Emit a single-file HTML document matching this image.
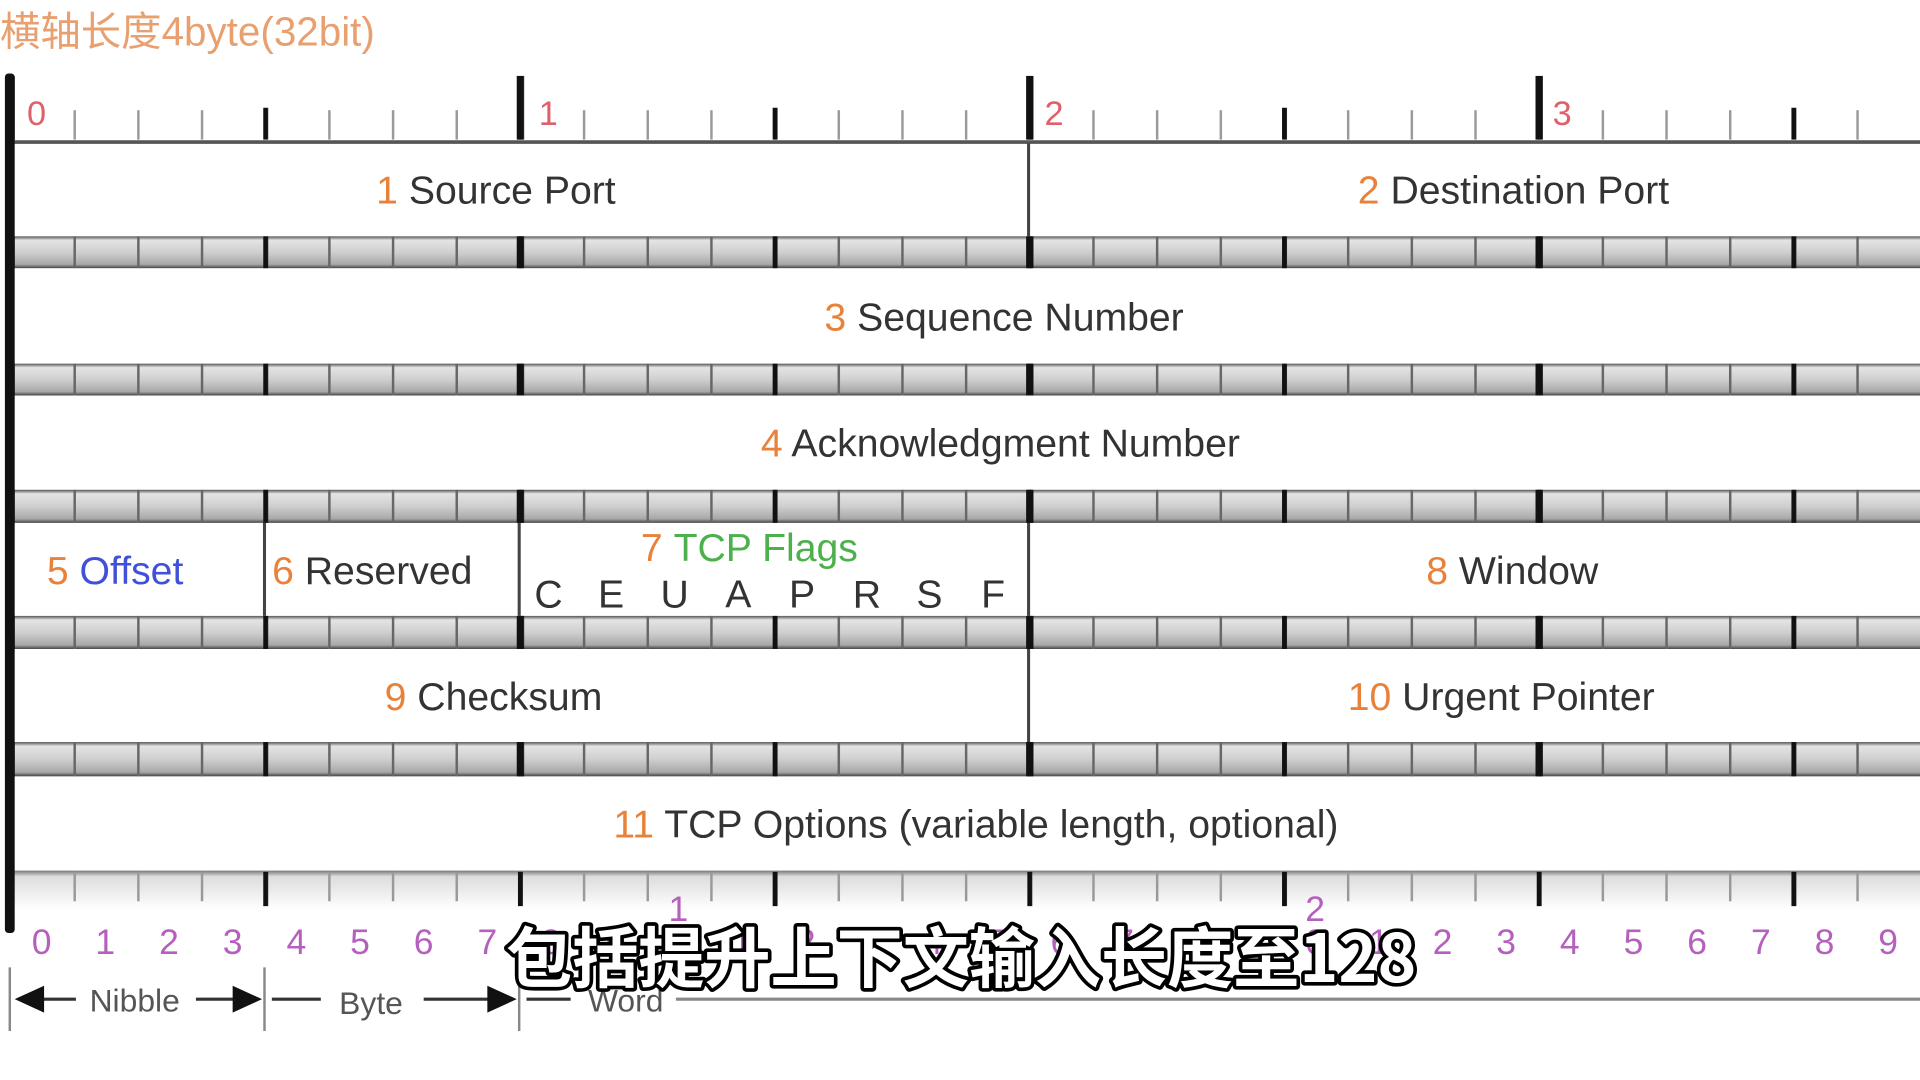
<!DOCTYPE html>
<html><head><meta charset="utf-8"><style>
html,body{margin:0;padding:0;background:#fff;width:1920px;height:1080px;overflow:hidden}
svg{display:block}
.t{font-family:"Liberation Sans",sans-serif;font-size:32px;fill:#333}
.n{fill:#e8823a}
</style></head><body>
<svg width="1920" height="1080" viewBox="0 0 1568 882" preserveAspectRatio="none" xmlns="http://www.w3.org/2000/svg">
<defs>
<linearGradient id="bar" x1="0" y1="0" x2="0" y2="1">
<stop offset="0" stop-color="#555"/><stop offset="0.12" stop-color="#e4e4e4"/><stop offset="0.5" stop-color="#cfcfcf"/><stop offset="0.88" stop-color="#a8a8a8"/><stop offset="1" stop-color="#444"/>
</linearGradient>
<linearGradient id="bot" x1="0" y1="0" x2="0" y2="1">
<stop offset="0" stop-color="#777"/><stop offset="0.15" stop-color="#ddd"/><stop offset="1" stop-color="#fff"/>
</linearGradient>
<pattern id="pBit" x="8" y="0" width="52" height="882" patternUnits="userSpaceOnUse"><rect x="0" y="0" width="2" height="882" fill="#666"/></pattern>
<pattern id="pNib" x="7" y="0" width="208" height="882" patternUnits="userSpaceOnUse"><rect x="0" y="0" width="4" height="882" fill="#111"/></pattern>
<pattern id="pByte" x="6" y="0" width="416" height="882" patternUnits="userSpaceOnUse"><rect x="0" y="0" width="6" height="882" fill="#111"/></pattern>
<pattern id="tBit" x="8" y="0" width="52" height="882" patternUnits="userSpaceOnUse"><rect x="0" y="0" width="2" height="882" fill="#999"/></pattern>
</defs>
<rect width="1568" height="882" fill="#fff"/>
<text x="0" y="37" font-family="Liberation Sans,Noto Sans CJK SC,sans-serif" font-size="33" fill="#e9a070">横轴长度4byte(32bit)</text>

<!-- top ruler -->
<rect x="8" y="90" width="1560" height="24" fill="url(#tBit)"/>
<rect x="8" y="88" width="1560" height="26" fill="url(#pNib)"/>
<rect x="8" y="62" width="1560" height="52" fill="url(#pByte)"/>
<g font-family="Liberation Sans,sans-serif" font-size="28" fill="#e0606a">
<text x="22" y="102">0</text><text x="440" y="102">1</text><text x="853" y="102">2</text><text x="1268" y="102">3</text></g>
<line x1="8" y1="116" x2="1568" y2="116" stroke="#555" stroke-width="3"/>

<!-- bars -->
<g>
<rect x="8" y="193" width="1560" height="26" fill="url(#bar)"/><rect x="8" y="193" width="1560" height="26" fill="url(#pBit)"/><rect x="8" y="193" width="1560" height="26" fill="url(#pNib)"/><rect x="8" y="193" width="1560" height="26" fill="url(#pByte)"/>
<rect x="8" y="297" width="1560" height="26" fill="url(#bar)"/><rect x="8" y="297" width="1560" height="26" fill="url(#pBit)"/><rect x="8" y="297" width="1560" height="26" fill="url(#pNib)"/><rect x="8" y="297" width="1560" height="26" fill="url(#pByte)"/>
<rect x="8" y="400" width="1560" height="27" fill="url(#bar)"/><rect x="8" y="400" width="1560" height="27" fill="url(#pBit)"/><rect x="8" y="400" width="1560" height="27" fill="url(#pNib)"/><rect x="8" y="400" width="1560" height="27" fill="url(#pByte)"/>
<rect x="8" y="503" width="1560" height="27" fill="url(#bar)"/><rect x="8" y="503" width="1560" height="27" fill="url(#pBit)"/><rect x="8" y="503" width="1560" height="27" fill="url(#pNib)"/><rect x="8" y="503" width="1560" height="27" fill="url(#pByte)"/>
<rect x="8" y="606" width="1560" height="28" fill="url(#bar)"/><rect x="8" y="606" width="1560" height="28" fill="url(#pBit)"/><rect x="8" y="606" width="1560" height="28" fill="url(#pNib)"/><rect x="8" y="606" width="1560" height="28" fill="url(#pByte)"/>
</g>
<!-- bottom ruler -->
<rect x="8" y="711" width="1560" height="32" fill="url(#bot)"/>
<rect x="8" y="712" width="1560" height="24" fill="url(#tBit)"/>
<rect x="8" y="712" width="1560" height="28" fill="url(#pNib)"/>

<!-- dividers -->
<g stroke="#444" stroke-width="2.5">
<line x1="840" y1="117" x2="840" y2="193"/>
<line x1="216" y1="427" x2="216" y2="503"/>
<line x1="424" y1="427" x2="424" y2="503"/>
<line x1="840" y1="427" x2="840" y2="503"/>
<line x1="840" y1="530" x2="840" y2="606"/>
</g>
<rect x="4" y="60" width="8" height="702" rx="3" fill="#111"/>

<!-- labels -->
<text class="t" x="405" y="166" text-anchor="middle"><tspan class="n">1</tspan> Source Port</text>
<text class="t" x="1236" y="166" text-anchor="middle"><tspan class="n">2</tspan> Destination Port</text>
<text class="t" x="820" y="270" text-anchor="middle"><tspan class="n">3</tspan> Sequence Number</text>
<text class="t" x="817" y="373" text-anchor="middle"><tspan class="n">4</tspan>  Acknowledgment Number</text>
<text class="t" x="94" y="477" text-anchor="middle"><tspan class="n">5</tspan> <tspan fill="#4050d8">Offset</tspan></text>
<text class="t" x="304" y="477" text-anchor="middle"><tspan class="n">6</tspan> Reserved</text>
<text class="t" x="612" y="458" text-anchor="middle"><tspan class="n">7</tspan> <tspan fill="#4cb04c">TCP Flags</tspan></text>
<g class="t" text-anchor="middle" font-size="30"><text x="448" y="496">C</text><text x="499" y="496">E</text><text x="551" y="496">U</text><text x="603" y="496">A</text><text x="655" y="496">P</text><text x="708" y="496">R</text><text x="759" y="496">S</text><text x="811" y="496">F</text></g>
<text class="t" x="1235" y="477" text-anchor="middle"><tspan class="n">8</tspan> Window</text>
<text class="t" x="403" y="580" text-anchor="middle"><tspan class="n">9</tspan> Checksum</text>
<text class="t" x="1226" y="580" text-anchor="middle"><tspan class="n">10</tspan> Urgent Pointer</text>
<text class="t" x="797" y="684" text-anchor="middle"><tspan class="n">11</tspan> TCP Options (variable length, optional)</text>

<!-- bit numbers -->
<g font-family="Liberation Sans,sans-serif" font-size="29" fill="#b560bd" text-anchor="middle">
<text x="34" y="779">0</text><text x="86" y="779">1</text><text x="138" y="779">2</text><text x="190" y="779">3</text><text x="242" y="779">4</text><text x="294" y="779">5</text><text x="346" y="779">6</text><text x="398" y="779">7</text><text x="450" y="779">8</text><text x="502" y="779">9</text>
<text x="554" y="779">0</text><text x="554" y="752">1</text><text x="606" y="779">1</text><text x="658" y="779">2</text><text x="710" y="779">3</text><text x="762" y="779">4</text><text x="814" y="779">5</text><text x="866" y="779">6</text><text x="918" y="779">7</text><text x="970" y="779">8</text><text x="1022" y="779">9</text>
<text x="1074" y="779">0</text><text x="1074" y="752">2</text><text x="1126" y="779">1</text><text x="1178" y="779">2</text><text x="1230" y="779">3</text><text x="1282" y="779">4</text><text x="1334" y="779">5</text><text x="1386" y="779">6</text><text x="1438" y="779">7</text><text x="1490" y="779">8</text><text x="1542" y="779">9</text>
</g>

<!-- legend -->
<g stroke="#888" stroke-width="2"><line x1="8" y1="790" x2="8" y2="842"/><line x1="216" y1="790" x2="216" y2="842"/><line x1="424" y1="790" x2="424" y2="842"/></g>
<g stroke="#333" stroke-width="2.5">
<line x1="20" y1="816" x2="62" y2="816"/><line x1="160" y1="816" x2="200" y2="816"/>
<line x1="222" y1="816" x2="262" y2="816"/><line x1="346" y1="816" x2="408" y2="816"/>
<line x1="430" y1="816" x2="466" y2="816"/><line x1="552" y1="816" x2="1568" y2="816" stroke="#888"/>
</g>
<g fill="#111"><polygon points="12,816 36,805 36,827"/><polygon points="214,816 190,805 190,827"/><polygon points="422,816 398,805 398,827"/></g>
<g font-family="Liberation Sans,sans-serif" font-size="26" fill="#555" text-anchor="middle">
<text x="110" y="826">Nibble</text><text x="303" y="828">Byte</text><text x="511" y="826">Word</text></g>

<!-- subtitle -->
<text x="785" y="802" text-anchor="middle" font-family="Noto Sans CJK SC,sans-serif" font-weight="bold" font-size="54" fill="#fff" stroke="#000" stroke-width="6" paint-order="stroke" stroke-linejoin="round">包括提升上下文输入长度至128</text>
</svg>
</body></html>
